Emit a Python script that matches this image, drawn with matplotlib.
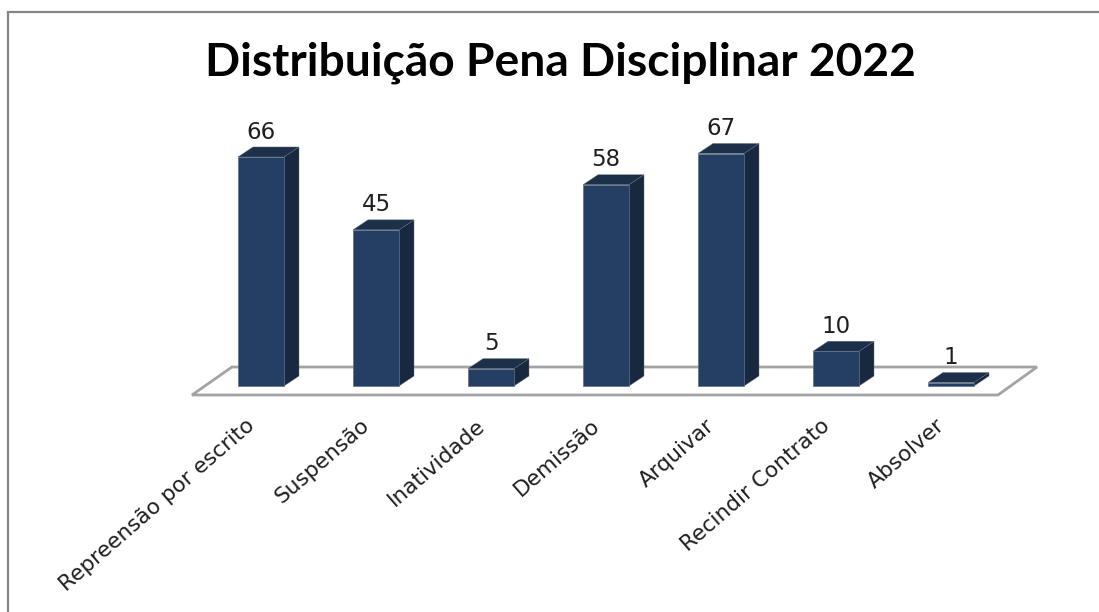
import matplotlib
matplotlib.use("Agg")
import matplotlib.pyplot as plt
from matplotlib.patches import Polygon, Rectangle

categories = ["Repreensão por escrito", "Suspensão", "Inatividade", "Demissão",
              "Arquivar", "Recindir Contrato", "Absolver"]
values = [66, 45, 5, 58, 67, 10, 1]
title = "Distribuição Pena Disciplinar 2022"

W, H = 1099, 612
fig = plt.figure(figsize=(W / 100, H / 100), dpi=100, facecolor="white")

L, R, B, T = 192, 1000, 395, 100
ax = fig.add_axes([L / W, 1 - B / H, (R - L) / W, (B - T) / H])
PX_X = 115.0   # px per category
PX_Y = 3.47    # px per unit
ax.set_xlim((L - 261) / PX_X, (R - 261) / PX_X)
ax.set_ylim((386 - B) / PX_Y, (386 - T) / PX_Y)
ax.axis("off")

dx = 15 / PX_X
dy = 10 / PX_Y
bw = 46 / PX_X

# floor
fl = [(192, 395), (998, 395), (1037, 367), (232, 367)]
floor = [((x - 261) / PX_X, (386 - y) / PX_Y) for x, y in fl]
ax.add_patch(Polygon(floor, closed=True, fc="white", ec="#a3a3a3", lw=2, zorder=1, clip_on=False))

for i, v in enumerate(values):
    x0, x1 = i - bw / 2, i + bw / 2
    ax.bar(i, v, width=bw, color="#243f63", edgecolor="#5f7088", linewidth=0.5, zorder=3)
    ax.add_patch(Polygon([(x1, 0), (x1 + dx, dy), (x1 + dx, v + dy), (x1, v)], closed=True,
                         fc="#18293f", ec="#5f6b7c", lw=0.3, zorder=2.9))
    ax.add_patch(Polygon([(x0, v), (x1, v), (x1 + dx, v + dy), (x0 + dx, v + dy)], closed=True,
                         fc="#1c3049", ec="#5f6b7c", lw=0.3, zorder=2.9))
    ax.text(i, v + dy + 1.0, str(v), ha="center", va="bottom",
            fontsize=16.5, color="#1f1f1f", family="DejaVu Sans", zorder=5)

# category labels
for i, c in enumerate(categories):
    ax.annotate(c, xy=(i, 0), xycoords="data", xytext=(-6.5, -26.5),
                textcoords="offset points", rotation=41, rotation_mode="anchor",
                ha="right", va="center", fontsize=15.6, color="#1f1f1f",
                family="DejaVu Sans", annotation_clip=False)

fig.text(560 / W, 1 - 63 / H, title, ha="center", va="center", fontsize=33.2,
         fontweight="bold", family="Lato", color="black")

# outer frame: only top and left edges fall inside the picture
fig.add_artist(Rectangle((8 / W, -0.1), 1.2, 1 - 12 / H + 0.1, transform=fig.transFigure,
                         fc="none", ec="#868686", lw=1.6))

fig.savefig("out.png", dpi=100)
